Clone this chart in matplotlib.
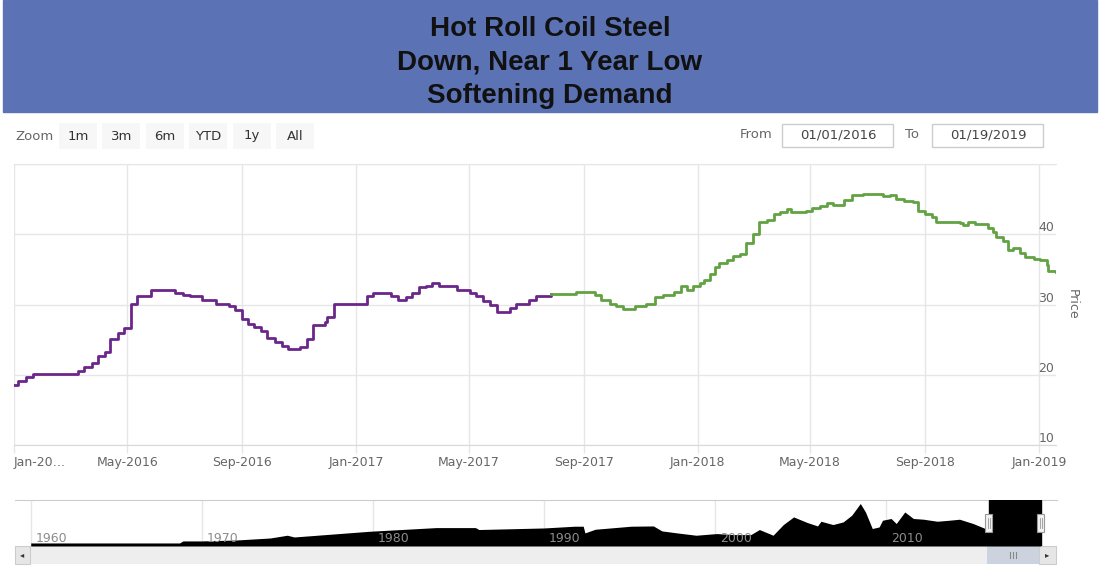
import matplotlib
matplotlib.use('Agg')
import matplotlib.pyplot as plt
from matplotlib.patches import Rectangle
import numpy as np
import pandas as pd

W, H = 1099, 568

# --- data ---
title_lines = ['Hot Roll Coil Steel', 'Down, Near 1 Year Low', 'Softening Demand']

purple_dates = ['2016-01-01', '2016-01-05', '2016-01-14', '2016-01-21', '2016-03-09',
                '2016-03-16', '2016-03-24', '2016-03-31', '2016-04-07', '2016-04-13',
                '2016-04-21', '2016-04-28', '2016-05-05', '2016-05-12', '2016-05-26',
                '2016-06-21', '2016-06-30', '2016-07-07', '2016-07-20', '2016-08-04',
                '2016-08-18', '2016-08-24', '2016-09-01', '2016-09-07', '2016-09-14',
                '2016-09-21', '2016-09-28', '2016-10-06', '2016-10-13', '2016-10-20',
                '2016-11-02', '2016-11-09', '2016-11-16', '2016-11-28', '2016-12-01',
                '2016-12-08', '2017-01-12', '2017-01-19', '2017-02-07', '2017-02-14',
                '2017-02-23', '2017-03-02', '2017-03-09', '2017-03-16', '2017-03-23',
                '2017-03-30', '2017-04-19', '2017-05-02', '2017-05-09', '2017-05-16',
                '2017-05-24', '2017-05-31', '2017-06-14', '2017-06-21', '2017-07-05',
                '2017-07-12', '2017-07-28']
purple_prices = [18.5, 19.1, 19.7, 20.1, 20.6,
                 21.1, 21.7, 22.6, 23.2, 25.1,
                 26.0, 26.7, 30.1, 31.2, 32.1,
                 31.7, 31.4, 31.2, 30.7, 30.1,
                 29.8, 29.2, 27.9, 27.2, 26.8,
                 26.2, 25.3, 24.6, 24.1, 23.6,
                 24.0, 25.1, 27.1, 27.5, 28.2,
                 30.1, 31.2, 31.7, 31.2, 30.6,
                 31.1, 31.7, 32.5, 32.7, 33.1,
                 32.7, 32.1, 31.7, 31.2, 30.5,
                 29.9, 29.0, 29.5, 30.1, 30.6,
                 31.2, 31.5]

green_dates = ['2017-07-28', '2017-08-24', '2017-09-13', '2017-09-20', '2017-09-29',
               '2017-10-06', '2017-10-13', '2017-10-26', '2017-11-07', '2017-11-16',
               '2017-11-25', '2017-12-07', '2017-12-14', '2017-12-20', '2017-12-27',
               '2018-01-03', '2018-01-08', '2018-01-14', '2018-01-19', '2018-01-24',
               '2018-02-01', '2018-02-08', '2018-02-15', '2018-02-22', '2018-03-01',
               '2018-03-08', '2018-03-16', '2018-03-23', '2018-03-30', '2018-04-06',
               '2018-04-11', '2018-04-27', '2018-05-03', '2018-05-12', '2018-05-19',
               '2018-05-26', '2018-06-06', '2018-06-15', '2018-06-27', '2018-07-18',
               '2018-07-25', '2018-08-01', '2018-08-10', '2018-08-19', '2018-08-24',
               '2018-09-01', '2018-09-08', '2018-09-13', '2018-10-08', '2018-10-12',
               '2018-10-17', '2018-10-24', '2018-11-07', '2018-11-13', '2018-11-16',
               '2018-11-23', '2018-11-29', '2018-12-04', '2018-12-11', '2018-12-17',
               '2018-12-26', '2019-01-02', '2019-01-09', '2019-01-10', '2019-01-19']
green_prices = [31.5, 31.8, 31.4, 30.7, 30.1,
                29.8, 29.4, 29.8, 30.1, 31.0,
                31.3, 31.8, 32.7, 32.1, 32.7,
                33.1, 33.5, 34.3, 35.4, 35.9,
                36.4, 36.9, 37.2, 38.8, 40.1,
                41.7, 42.0, 42.9, 43.1, 43.6,
                43.2, 43.3, 43.8, 44.0, 44.4,
                44.1, 44.9, 45.6, 45.8, 45.5,
                45.6, 45.0, 44.8, 44.6, 43.3,
                42.9, 42.4, 41.8, 41.6, 41.3,
                41.8, 41.4, 40.9, 40.3, 39.6,
                39.0, 37.8, 38.1, 37.3, 36.7,
                36.5, 36.3, 35.6, 34.8, 34.6]

# navigator: long history (decimal years, price)
nav_years = [1960.0, 1968.7, 1968.9, 1970.0, 1972.0, 1974.0, 1975.0, 1975.4, 1979.8, 1983.7,
             1986.0, 1986.2, 1990.0, 1991.8, 1992.3, 1992.4, 1993.0, 1995.1, 1996.4, 1996.9,
             1997.8, 1998.9, 2000.1, 2001.1, 2002.1, 2002.6, 2003.4, 2004.0, 2004.6, 2005.4,
             2006.0, 2006.2, 2006.9, 2007.5, 2008.0, 2008.5, 2008.8, 2009.2, 2009.6, 2009.8,
             2010.3, 2010.6, 2011.1, 2011.6, 2012.2, 2013.0, 2013.7, 2014.3, 2015.1, 2015.8]
nav_prices = [3.3, 3.3, 5.5, 5.5, 6.5, 8.7, 11.7, 9.8, 16.0, 20.0,
              20.0, 17.9, 19.6, 21.5, 21.5, 14.2, 18.2, 21.5, 21.8, 16.4,
              14.2, 11.7, 13.5, 12.4, 12.4, 17.9, 11.7, 23.3, 31.6, 25.5,
              21.8, 26.9, 23.3, 26.2, 33.5, 46.2, 37.0, 19.0, 20.7, 28.0,
              29.9, 24.4, 37.0, 29.9, 29.1, 26.9, 28.0, 29.1, 24.4, 19.0]

x_ticks = ['2016-01-01', '2016-05-01', '2016-09-01', '2017-01-01', '2017-05-01',
           '2017-09-01', '2018-01-01', '2018-05-01', '2018-09-01', '2019-01-01']
x_labels = ['Jan-20\u2026', 'May-2016', 'Sep-2016', 'Jan-2017', 'May-2017',
            'Sep-2017', 'Jan-2018', 'May-2018', 'Sep-2018', 'Jan-2019']
y_ticks = [10, 20, 30, 40, 50]
y_labels = ['10', '20', '30', '40', '']
decades = [1960, 1970, 1980, 1990, 2000, 2010]
zoom_buttons = ['1m', '3m', '6m', 'YTD', '1y', 'All']
date_from, date_to = '01/01/2016', '01/19/2019'
start, end = '2016-01-01', '2019-01-19'

GRID = '#e6e6e6'
LABEL = '#666666'

fig = plt.figure(figsize=(W / 100, H / 100), dpi=100)

# pixel-space overlay for the banner and range-selector widgets
ui = fig.add_axes([0, 0, 1, 1], zorder=0)
ui.set_xlim(0, W)
ui.set_ylim(H, 0)
ui.axis('off')

ui.add_patch(Rectangle((3, 0), 1094, 112, color='#5b72b5'))
for line, base in zip(title_lines, [36, 70, 103]):
    ui.text(550, base, line, ha='center', va='baseline', fontsize=20, weight='bold',
            family=['Liberation Sans', 'DejaVu Sans'], color='#111111')

ui.text(15, 136, 'Zoom', va='center', fontsize=9.5, color=LABEL)
for i, lab in enumerate(zoom_buttons):
    x0 = 59 + i * 43.4
    ui.add_patch(Rectangle((x0, 123), 38, 26, fc='#f7f7f7', ec='none'))
    ui.text(x0 + 19, 136, lab, ha='center', va='center', fontsize=9.5, color='#333333')

ui.text(740, 135, 'From', va='center', fontsize=9.5, color=LABEL)
ui.add_patch(Rectangle((782, 124), 111, 23, fc='white', ec='#cccccc', lw=1))
ui.text(838, 135.5, date_from, ha='center', va='center', fontsize=9.5, color='#444444')
ui.text(905, 135, 'To', va='center', fontsize=9.5, color=LABEL)
ui.add_patch(Rectangle((932, 124), 111, 23, fc='white', ec='#cccccc', lw=1))
ui.text(988, 135.5, date_to, ha='center', va='center', fontsize=9.5, color='#444444')

# --- main chart ---
ax = fig.add_axes([14 / W, (H - 445) / H, 1042 / W, 281 / H], zorder=2)
ax.set_facecolor('none')
pd_ = np.array(purple_dates, dtype='datetime64[D]')
gd_ = np.array(green_dates, dtype='datetime64[D]')
ax.plot(pd_, purple_prices, drawstyle='steps-post', color='#6b2689', lw=2.0)
ax.plot(gd_, green_prices, drawstyle='steps-post', color='#62a243', lw=2.0)
ax.set_xlim(np.datetime64(start), np.datetime64(end))
ax.set_ylim(10, 50)
ax.set_xticks(np.array(x_ticks, dtype='datetime64[D]'))
ax.set_xticklabels(x_labels)
ax.get_xticklabels()[0].set_ha('left')
ax.set_yticks(y_ticks)
ax.tick_params(axis='y', left=False, labelleft=False)
ax.tick_params(axis='x', length=6, width=1, color=GRID, pad=2, labelsize=9, labelcolor=LABEL)
ax.grid(color=GRID, lw=1)
for k, s in ax.spines.items():
    s.set_visible(k in ('bottom', 'top'))
    s.set_color('#d8d8d8' if k == 'bottom' else GRID)
for v, lab in zip(y_ticks, y_labels):
    ax.text(0.9985, v, lab, transform=ax.get_yaxis_transform(), ha='right', va='bottom',
            fontsize=9, color=LABEL)
ax.text(1.0155, 0.5, 'Price', rotation=270, transform=ax.transAxes, ha='center',
        va='center', fontsize=9, color=LABEL)

# --- navigator ---
def dec_year(dates):
    d = pd.to_datetime(dates)
    return list(d.year + (d.dayofyear - 1) / 365.25)

sel_start = dec_year([start])[0]
sel_end = dec_year([end])[0]
nx = nav_years + dec_year(purple_dates) + dec_year(green_dates)
ny = nav_prices + purple_prices + green_prices

nav = fig.add_axes([15 / W, (H - 546) / H, 1042 / W, 46 / H], zorder=2)
nav.set_facecolor('none')
nav.set_xlim(1959.08, 2020.0)
nav.set_ylim(0, 50)
nav.fill_between(nx, ny, color='black', lw=0, zorder=2)
nav.axvspan(sel_start, sel_end, color='black', zorder=3)
for d in decades:
    nav.axvline(d, color=GRID, lw=1, zorder=1)
    nav.text(d + 0.3, 0.02, str(d), transform=nav.get_xaxis_transform(), fontsize=9,
             color='#8c8c8c', va='bottom', zorder=4)
nav.set_xticks([])
nav.set_yticks([])
for k, s in nav.spines.items():
    s.set_visible(k == 'top')
nav.spines['top'].set_color('#cccccc')
for hx in (sel_start, sel_end):
    nav.add_patch(Rectangle((hx - 0.2, 0.3), 0.4, 0.4, transform=nav.get_xaxis_transform(),
                            fc='#f2f2f2', ec='#999999', lw=0.8, zorder=5, clip_on=False))
    for off in (-0.06, 0.06):
        nav.plot([hx + off, hx + off], [0.4, 0.6], transform=nav.get_xaxis_transform(),
                 color='#999999', lw=0.6, zorder=6, clip_on=False)

# scrollbar
ui.add_patch(Rectangle((15, 546), 1042, 18, fc='#eeeeee', ec='none'))
ui.add_patch(Rectangle((15, 546), 15, 18, fc='#e6e6e6', ec='#cccccc', lw=0.8))
ui.text(22.5, 555, '\u25c2', ha='center', va='center', fontsize=6, color='#333333')
ui.add_patch(Rectangle((987, 546), 52, 18, fc='#cdd3de', ec='none'))
for gx in (1010, 1013, 1016):
    ui.plot([gx, gx], [552, 558], color='#888888', lw=0.8)
ui.add_patch(Rectangle((1039, 546), 17, 18, fc='#e6e6e6', ec='#cccccc', lw=0.8))
ui.text(1047.5, 555, '\u25b8', ha='center', va='center', fontsize=6, color='#333333')

plt.savefig('out.png', dpi=100)
